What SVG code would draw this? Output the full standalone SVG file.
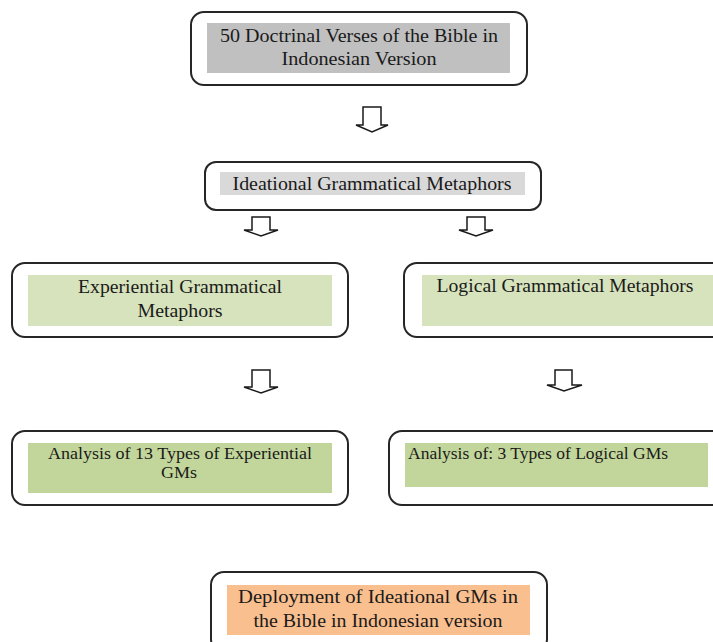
<svg xmlns="http://www.w3.org/2000/svg" width="713" height="642" viewBox="0 0 713 642">
<style>
.box{fill:#ffffff;stroke:#262626;stroke-width:2}
text{font-family:'Liberation Serif','Times New Roman',serif;fill:#1a1a1a;font-size:18px}
.s{font-size:16px}
.arrow{fill:#ffffff;stroke:#1a1a1a;stroke-width:1.5;stroke-linejoin:miter}
</style>
<rect width="713" height="642" fill="#ffffff"/>
<g id="n1">
<rect class="box" x="191" y="12" width="336" height="73" rx="13"/>
<rect x="207" y="23" width="303" height="50" fill="#c0c0c0"/>
<text x="359" y="42" text-anchor="middle" textLength="278" lengthAdjust="spacingAndGlyphs">50 Doctrinal Verses of the Bible in</text>
<text x="359" y="65" text-anchor="middle" textLength="155" lengthAdjust="spacingAndGlyphs">Indonesian Version</text>
</g>
<g id="n2">
<rect class="box" x="205" y="162" width="336" height="48" rx="11"/>
<rect x="220" y="172" width="305" height="23" fill="#d9d9d9"/>
<text x="372" y="190" text-anchor="middle" textLength="279" lengthAdjust="spacingAndGlyphs">Ideational Grammatical Metaphors</text>
</g>
<g id="n3">
<rect class="box" x="12" y="263" width="336" height="74" rx="13"/>
<rect x="28" y="275" width="304" height="51" fill="#d6e3bc"/>
<text x="180" y="293" text-anchor="middle" textLength="204" lengthAdjust="spacingAndGlyphs">Experiential Grammatical</text>
<text x="180" y="317" text-anchor="middle" textLength="85" lengthAdjust="spacingAndGlyphs">Metaphors</text>
</g>
<g id="n4">
<rect class="box" x="404" y="263" width="336" height="74" rx="13"/>
<rect x="422" y="275" width="300" height="51" fill="#d6e3bc"/>
<text x="565" y="292" text-anchor="middle" textLength="257" lengthAdjust="spacingAndGlyphs">Logical Grammatical Metaphors</text>
</g>
<g id="n5">
<rect class="box" x="12" y="431" width="336" height="74" rx="13"/>
<rect x="28" y="443" width="304" height="50" fill="#c2d69b"/>
<text class="s" x="180" y="459" text-anchor="middle" textLength="264" lengthAdjust="spacingAndGlyphs">Analysis of 13 Types of Experiential</text>
<text class="s" x="179" y="478" text-anchor="middle" textLength="36" lengthAdjust="spacingAndGlyphs">GMs</text>
</g>
<g id="n6">
<rect class="box" x="389" y="431" width="336" height="74" rx="13"/>
<rect x="405" y="443" width="303" height="44" fill="#c2d69b"/>
<text class="s" x="408" y="459" textLength="260" lengthAdjust="spacingAndGlyphs">Analysis of: 3 Types of Logical GMs</text>
</g>
<g id="n7">
<rect class="box" x="211" y="572" width="336" height="80" rx="13"/>
<rect x="227" y="585" width="303" height="50" fill="#fabf8f"/>
<text x="378" y="603" text-anchor="middle" textLength="280" lengthAdjust="spacingAndGlyphs">Deployment of Ideational GMs  in</text>
<text x="378" y="627" text-anchor="middle" textLength="249" lengthAdjust="spacingAndGlyphs">the Bible in Indonesian version</text>
</g>
<g id="connectors">
<polygon class="arrow" points="363,107 381,107 381,125 388,125 372,132 356,125 363,125"/>
<polygon class="arrow" points="252,217 270,217 270,230 278,230 261,236 244,230 252,230"/>
<polygon class="arrow" points="467,217 485,217 485,230 493,230 476,236 459,230 467,230"/>
<polygon class="arrow" points="252,370 270,370 270,387 278,387 261,393 244,387 252,387"/>
<polygon class="arrow" points="555,370 572,370 572,385 582,385 564,391 547,385 555,385"/>
</g>
</svg>
